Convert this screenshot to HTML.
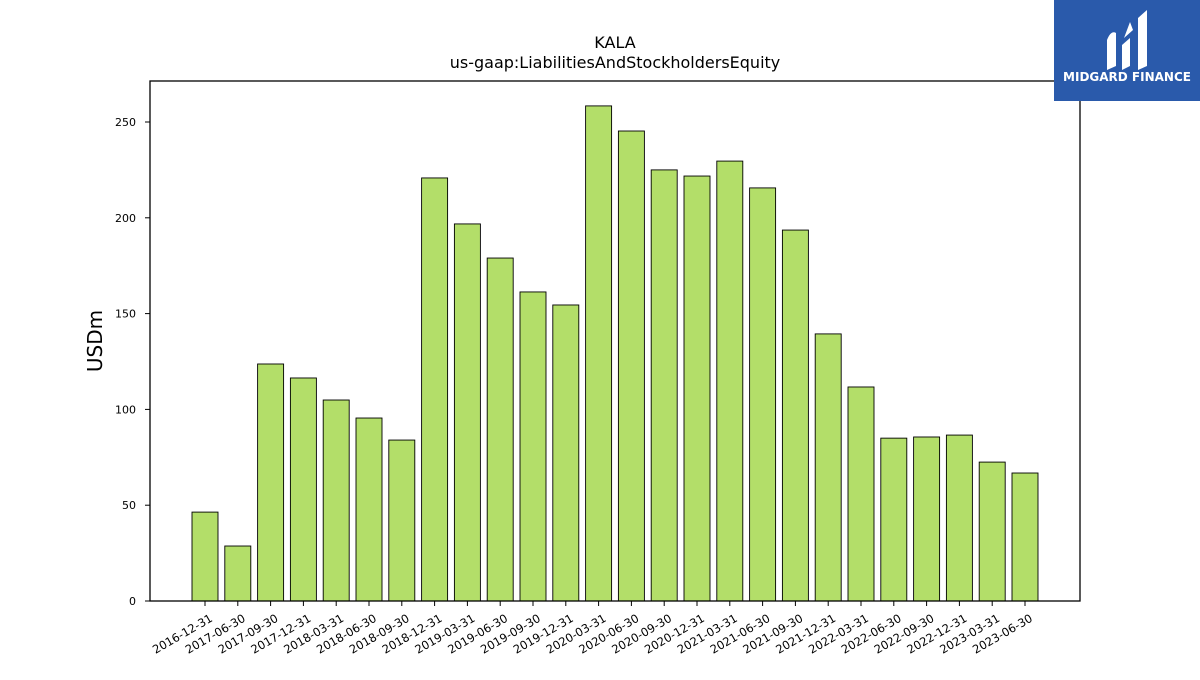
<!DOCTYPE html>
<html><head><meta charset="utf-8"><style>
body{margin:0;background:#fff;font-family:"Liberation Sans","DejaVu Sans",sans-serif}
svg text{font-family:"DejaVu Sans","Liberation Sans",sans-serif}
</style></head><body>
<svg id="chart" width="1200" height="675" xmlns="http://www.w3.org/2000/svg">
<rect width="1200" height="675" fill="#fff"/>
<text x="615" y="48" text-anchor="middle" font-size="16">KALA</text>
<text x="615" y="68" text-anchor="middle" font-size="16">us-gaap:LiabilitiesAndStockholdersEquity</text>
<text transform="translate(102,341) rotate(-90)" text-anchor="middle" font-size="20">USDm</text>
<g id="bars"></g><g id="xt"></g><g id="yt"></g>
<rect x="150" y="81" width="930" height="520" fill="none" stroke="#000" stroke-width="1.3"/>
<g>
<rect x="1054" y="0" width="146" height="101" fill="#2a5aab"/>
<path d="M1107 70 L1107 40 Q1111 30 1116 33 L1116 66 Z M1122 70 L1122 45 L1130 38 L1130 66 Z M1138 70 L1138 18 L1147 10 L1147 66 Z M1124 38 L1130 22 L1133 30 Z" fill="#fff"/>
<text x="1127" y="81" text-anchor="middle" font-size="12" font-weight="bold" fill="#fff">MIDGARD FINANCE</text>
</g>
</svg>
<script>
const categories=["2016-12-31","2017-06-30","2017-09-30","2017-12-31","2018-03-31","2018-06-30","2018-09-30","2018-12-31","2019-03-31","2019-06-30","2019-09-30","2019-12-31","2020-03-31","2020-06-30","2020-09-30","2020-12-31","2021-03-31","2021-06-30","2021-09-30","2021-12-31","2022-03-31","2022-06-30","2022-09-30","2022-12-31","2023-03-31","2023-06-30"];
const values=[46.4,28.7,123.7,116.4,104.9,95.5,84,220.8,196.8,179,161.3,154.5,258.4,245.3,225,221.8,229.6,215.6,193.6,139.4,111.7,85,85.6,86.6,72.5,66.8];
const yTicks=[0,50,100,150,200,250];
const NS="http://www.w3.org/2000/svg";
const x0=205,step=32.8,bw=26;
const xs=i=>x0+i*step;
const ys=v=>601-v*1.916;
const bars=document.getElementById('bars'),xt=document.getElementById('xt'),yt=document.getElementById('yt');
function mk(t,a,p){const e=document.createElementNS(NS,t);for(const k in a)e.setAttribute(k,a[k]);p.appendChild(e);return e;}
values.forEach((v,i)=>{
 const r=mk('rect',{x:xs(i)-bw/2,y:ys(v),width:bw,height:601-ys(v),fill:'#b3de69',stroke:'#000','stroke-width':0.9},bars);
 
 
});
categories.forEach((c,i)=>{
 const x=xs(i);
 const l=mk('line',{x1:x,x2:x,y1:601,y2:606,stroke:'#000'},xt);
 
 
 const t=mk('text',{transform:`translate(${x+4},${613}) rotate(-30)`,'text-anchor':'end','font-size':'11.5','dominant-baseline':'hanging'},xt);
 t.textContent=c;
 
 
});
yTicks.forEach(v=>{
 const y=ys(v);
 const l=mk('line',{x1:145,x2:150,y1:y,y2:y,stroke:'#000'},yt);
 
 
 const t=mk('text',{x:136,y:y+4,'text-anchor':'end','font-size':'11'},yt);
 t.textContent=v;
 
 
});
</script>
</body></html>
